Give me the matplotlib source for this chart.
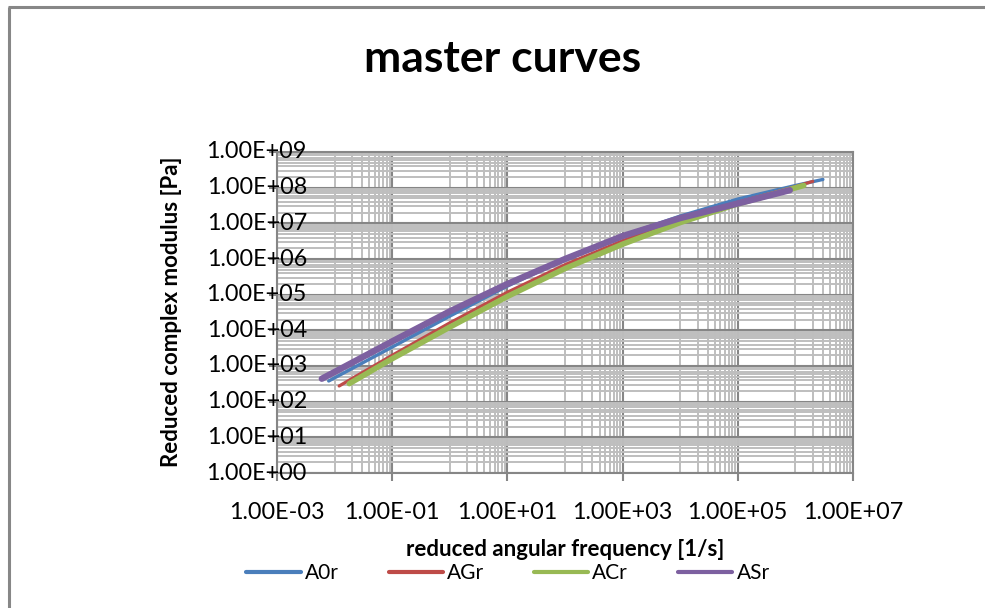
import matplotlib
matplotlib.use("Agg")
import matplotlib.pyplot as plt
from matplotlib.lines import Line2D
from matplotlib.ticker import FixedLocator, LogLocator, FuncFormatter, NullFormatter

plt.rcParams['font.family'] = ['Lato', 'DejaVu Sans']

# ---- data ----
a0r_w = [7.9e-3, 1e-1, 1e0, 1e1, 1e2, 1e3, 1e4, 1e5, 1e6, 3.0e6]
a0r_g = [3.8e2, 3.4e3, 2.5e4, 1.74e5, 9.8e5, 4.5e6, 1.6e7, 4.8e7, 1.15e8, 1.7e8]

agr_w = [1.2e-2, 1e-1, 1e0, 1e1, 1e2, 1e3, 1e4, 1e5, 1e6, 2.0e6]
agr_g = [2.75e2, 2.0e3, 1.62e4, 1.17e5, 6.9e5, 3.24e6, 1.23e7, 3.9e7, 1.07e8, 1.5e8]

acr_w = [1.8e-2, 1e-1, 1e0, 1e1, 1e2, 1e3, 1e4, 1e5, 1.4e6]
acr_g = [3.2e2, 1.6e3, 1.23e4, 8.9e4, 5.4e5, 2.6e6, 1.05e7, 3.5e7, 1.15e8]

asr_w = [6.0e-3, 1e-2, 1e-1, 1e0, 1e1, 1e2, 1e3, 1e4, 1e5, 8.0e5]
asr_g = [4.4e2, 6.8e2, 4.9e3, 3.4e4, 2.0e5, 1.0e6, 4.4e6, 1.4e7, 3.6e7, 8.5e7]

series_names = ["A0r", "AGr", "ACr", "ASr"]
x_major_ticks = [1e-3, 1e-1, 1e1, 1e3, 1e5, 1e7]
y_major_ticks = [1e0, 1e1, 1e2, 1e3, 1e4, 1e5, 1e6, 1e7, 1e8, 1e9]

title = "master curves"
xlabel = "reduced angular frequency [1/s]"
ylabel = "Reduced complex modulus [Pa]"

colors = ["#4A7EBB", "#BE4B48", "#98B954", "#7D60A0"]
widths = [2.4, 2.3, 4.0, 4.6]

W, H = 985, 608
fig = plt.figure(figsize=(W / 100, H / 100), dpi=100)
ax_w = 853 - 277
ax = fig.add_axes([277 / W, 1 - 473 / H, ax_w / W, (473 - 152) / H])

data = [(a0r_w, a0r_g), (agr_w, agr_g), (acr_w, acr_g), (asr_w, asr_g)]
for (w, g), c, lw, n in zip(data, colors, widths, series_names):
    ax.plot(w, g, color=c, lw=lw, solid_capstyle='round', solid_joinstyle='round',
            label=n, zorder=3)

ax.set_xscale('log')
ax.set_yscale('log')
ax.set_xlim(1e-3, 1e7)
ax.set_ylim(1, 1e9)

ax.xaxis.set_major_locator(FixedLocator(x_major_ticks))
x_minor = [m * 10 * k for m in x_major_ticks[:-1] for k in range(1, 10)]
ax.xaxis.set_minor_locator(FixedLocator(x_minor))
ax.yaxis.set_major_locator(FixedLocator(y_major_ticks))
ax.yaxis.set_minor_locator(LogLocator(base=10, subs=range(2, 10), numticks=20))


def sci(v, p=None):
    return f"{v:.2E}"


ax.xaxis.set_major_formatter(FuncFormatter(sci))
ax.xaxis.set_minor_formatter(NullFormatter())
ax.yaxis.set_minor_formatter(NullFormatter())

major_c = "#868686"
minor_c = "#BEBEBE"
ax.set_axisbelow(True)
ax.grid(which='minor', color=minor_c, lw=1.4)
ax.grid(which='major', color=major_c, lw=1.5)
for s in ax.spines.values():
    s.set_color(major_c)
    s.set_linewidth(1.5)

ax.tick_params(which='minor', length=0)
ax.tick_params(which='major', length=6, width=1.5, color=major_c, labelsize=16.8,
               labelcolor='black')
ax.tick_params(axis='x', which='major', pad=15)
ax.tick_params(axis='y', which='major', labelleft=False)

# y tick labels overlap into the plot area, drawn above the grid like in the original
ytrans = ax.get_yaxis_transform()
for v in y_major_ticks:
    ax.text(30 / ax_w, v, sci(v), transform=ytrans, ha='right', va='center',
            fontsize=16.8, color='black', zorder=10, clip_on=False)

fig.text(503 / W, 1 - 72 / H, title, ha='center', va='baseline',
         fontsize=32, fontweight='bold')
fig.text(565 / W, 1 - 549 / H, xlabel, ha='center', va='center',
         fontsize=16, fontweight='bold')
fig.text(172 / W, 1 - 312 / H, ylabel, ha='center', va='center',
         fontsize=16, fontweight='bold', rotation=90)

handles = [Line2D([0], [0], color=c, lw=3, solid_capstyle='round') for c in colors]
fig.legend(handles, series_names, loc='center', bbox_to_anchor=(508 / W, 1 - 573 / H),
           ncol=4, frameon=False, fontsize=15, handlelength=2.6, handletextpad=0.2,
           columnspacing=2.4, borderpad=0, borderaxespad=0)

frame_c = "#878787"
fig.add_artist(Line2D([9 / W, 9 / W], [0, 1 - 7 / H], color=frame_c, lw=2.2,
                      transform=fig.transFigure, solid_capstyle='butt'))
fig.add_artist(Line2D([8 / W, 1], [1 - 7 / H, 1 - 7 / H], color=frame_c, lw=2.2,
                      transform=fig.transFigure, solid_capstyle='butt'))

fig.savefig("out.png", dpi=100)
